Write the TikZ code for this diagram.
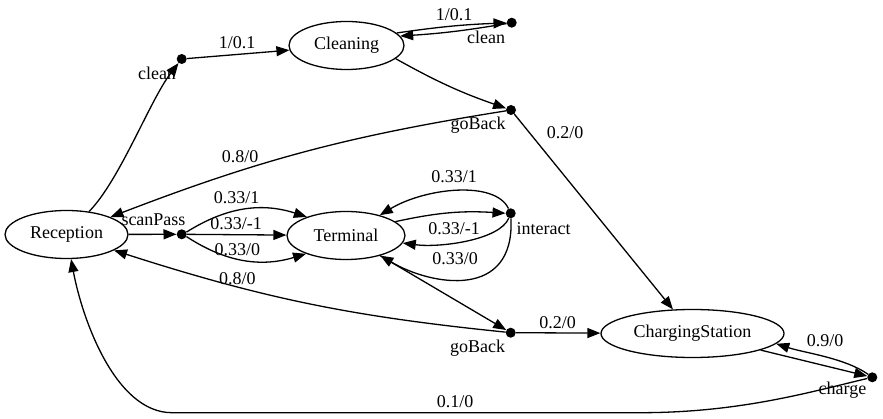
\documentclass[tikz,border=0pt]{standalone}
\usepackage{fontspec}
\setmainfont{Liberation Serif}
\usetikzlibrary{arrows.meta,shapes.geometric}
\begin{document}
\begin{tikzpicture}[x=1pt,y=-1pt,
  every node/.style={font=\fontsize{18}{20}\selectfont},
  st/.style={draw, ellipse, line width=1.3pt, inner sep=0pt, minimum height=48pt},
  act/.style={circle, fill=black, inner sep=0pt, minimum size=10pt},
  lbl/.style={inner sep=0pt},
  arr/.style={line width=1.3pt, -{Triangle[length=13pt,width=10pt]}}]
\useasboundingbox (0,0) rectangle (883,419);
% states
\node[st, minimum width=123pt] (rec) at (66.5,234.5) {Reception};
\node[st, minimum width=115pt] (cl) at (346.5,45.5) {Cleaning};
\node[st, minimum width=118pt] (term) at (346,235.5) {Terminal};
\node[st, minimum width=183pt] (cs) at (692.5,333.5) {ChargingStation};
% action points
\node[act] (c1) at (181.7,59) {};
\node[act] (c2) at (511.7,22.7) {};
\node[act] (gb1) at (511,110) {};
\node[act] (sp) at (181.7,234.3) {};
\node[act] (int) at (510.7,213.3) {};
\node[act] (gb2) at (510.7,332.7) {};
\node[act] (ch) at (872.3,377.3) {};
% action labels
\node[lbl] (c1l) at (157,73) {clean};
\node[lbl] (c2l) at (486,37) {clean};
\node[lbl] (gb1l) at (478,125) {goBack};
\node[lbl] (spl) at (153.5,220) {scanPass};
\node[lbl] (intl) at (543.5,229) {interact};
\node[lbl] (gb2l) at (477.5,348) {goBack};
\node[lbl] (chl) at (842.5,390.5) {charge};
% edge labels
\node[lbl] (e1) at (237,43) {1/0.1};
\node[lbl] (e2) at (454,15) {1/0.1};
\node[lbl] (e3) at (240,157) {0.8/0};
\node[lbl] (e4) at (565,133) {0.2/0};
\node[lbl] (e5) at (236.7,197.3) {0.33/1};
\node[lbl] (e6) at (236,223.3) {0.33/-1};
\node[lbl] (e7) at (237.3,249.3) {0.33/0};
\node[lbl] (e8) at (237.3,279) {0.8/0};
\node[lbl] (e9) at (454,176.7) {0.33/1};
\node[lbl] (e10) at (454,229) {0.33/-1};
\node[lbl] (e11) at (455,258.3) {0.33/0};
\node[lbl] (e12) at (557.7,322.7) {0.2/0};
\node[lbl] (e13) at (825,340.7) {0.9/0};
\node[lbl] (e14) at (455,402) {0.1/0};
% edges
\draw[arr] (rec) .. controls (120,180) and (150,100) .. (c1);
\draw[arr] (c1) -- (cl);
\draw[arr] (cl.14) to[bend left=3] (c2);
\draw[arr] (c2) to[bend left=3] (cl.10);
\draw[arr] (cl.-15) to[bend right=5] (gb1);
\draw[arr] (gb1) to[bend right=6] (rec);
\draw[arr] (gb1) -- (cs);
\draw[arr] (rec) -- (sp);
\draw[arr] (sp) to[bend left=25] (term);
\draw[arr] (sp) -- (term);
\draw[arr] (sp) to[bend right=25] (term);
\draw[arr] (term) to[bend left=8] (int);
\draw[arr] (int) .. controls (495,180) and (425,188) .. (term);
\draw[arr] (int) .. controls (500,240) and (440,248) .. (term);
\draw[arr] (int) .. controls (515,300) and (432,286) .. (term);
\draw[arr] (term) -- (gb2);
\draw[arr] (gb2) to[bend left=6] (rec);
\draw[arr] (gb2) -- (cs);
\draw[arr] (cs) -- (ch);
\draw[arr] (ch) .. controls (845,358) and (805,353) .. (cs.-7);
\draw[arr] (ch) .. controls (810,392) and (740,412.7) .. (640,412.7) -- (172,412.7) .. controls (115,412.7) and (82,318) .. (rec);
\end{tikzpicture}
\end{document}
